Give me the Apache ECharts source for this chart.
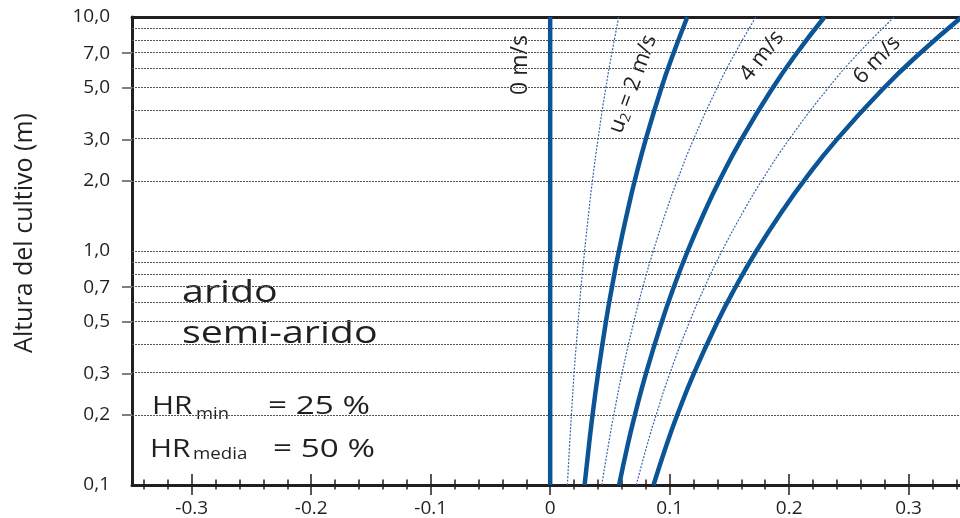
<!DOCTYPE html>
<html><head><meta charset="utf-8">
<script src="https://cdn.jsdelivr.net/npm/echarts@6/dist/echarts.min.js"></script>
<style>html,body{margin:0;padding:0;background:#fff}#c{width:960px;height:518px}</style>
</head><body><div id="c"></div>
<script>
// ---- data ----
const HEIGHTS = [0.1, 0.15, 0.2, 0.3, 0.5, 0.7, 1, 1.5, 2, 3, 5, 7, 10];
const U0 = [0, 0, 0, 0, 0, 0, 0, 0, 0, 0, 0, 0, 0];
const U1 = [0.0144, 0.0163, 0.0178, 0.0200, 0.0234, 0.0258, 0.0288, 0.0325, 0.0354, 0.0400, 0.0466, 0.0516, 0.0574];
const U2 = [0.0288, 0.0326, 0.0355, 0.0401, 0.0467, 0.0517, 0.0575, 0.0650, 0.0708, 0.0800, 0.0932, 0.1032, 0.1148];
const U3 = [0.0432, 0.0489, 0.0533, 0.0601, 0.0701, 0.0775, 0.0863, 0.0975, 0.1063, 0.1200, 0.1399, 0.1547, 0.1722];
const U4 = [0.0577, 0.0651, 0.0710, 0.0802, 0.0935, 0.1034, 0.1151, 0.1300, 0.1417, 0.1600, 0.1865, 0.2063, 0.2296];
const U5 = [0.0721, 0.0814, 0.0888, 0.1002, 0.1168, 0.1292, 0.1438, 0.1625, 0.1771, 0.2000, 0.2331, 0.2579, 0.2880];
const U6 = [0.0865, 0.0977, 0.1065, 0.1203, 0.1402, 0.1551, 0.1726, 0.1950, 0.2125, 0.2400, 0.2797, 0.3095, 0.3445];
const X_TICK_LABELS = [-0.3, -0.2, -0.1, 0, 0.1, 0.2, 0.3];
const X_MINOR_TICKS = [-0.34, -0.32, -0.30, -0.28, -0.26, -0.24, -0.22, -0.20, -0.18, -0.16, -0.14, -0.12, -0.10, -0.08, -0.06, -0.04, -0.02, 0,
  0.02, 0.04, 0.06, 0.08, 0.10, 0.12, 0.14, 0.16, 0.18, 0.20, 0.22, 0.24, 0.26, 0.28, 0.30, 0.32, 0.34];
const Y_TICK_LABELS = [0.1, 0.2, 0.3, 0.5, 0.7, 1, 2, 3, 5, 7, 10];
const Y_TICKS = [0.2, 0.3, 0.5, 0.7, 2, 3, 5, 7];
const Y_GRID = [0.2, 0.3, 0.4, 0.5, 0.6, 0.7, 0.8, 0.9, 1, 2, 3, 4, 5, 6, 7, 8, 9];

// ---- chart ----
const L = v => Math.log10(v);
const pts = xs => xs.map((x, i) => [x, L(HEIGHTS[i])]);
const FONT = 'Open Sans';
const INK = '#231f20';
const BLUE = '#0b5597';
const THIN = '#3566ad';

function baseX(extra) {
  return Object.assign({
    type: 'value', min: -0.35, max: 0.343, position: 'bottom',
    axisLine: { show: false, onZero: false },
    axisTick: { show: false }, axisLabel: { show: false }, splitLine: { show: false }
  }, extra);
}
const tickStyle = { color: INK, width: 1.5 };

const thick = (name, xs) => ({
  name, type: 'line', data: pts(xs), smooth: true, showSymbol: false, symbol: 'none',
  lineStyle: { color: BLUE, width: 4.5 }, z: 5, silent: true
});
const thin = (name, xs) => ({
  name, type: 'line', data: pts(xs), smooth: true, showSymbol: false, symbol: 'none',
  lineStyle: { color: THIN, width: 1.2, type: [2, 1.5] }, z: 4, silent: true
});

const txt = (text, x, y, size, scaleX) => ({
  type: 'text', x, y, scaleX: scaleX || 1, silent: true,
  style: {
    text, fill: INK, fontSize: size, fontFamily: FONT,
    align: 'left', textAlign: 'left', verticalAlign: 'middle', textVerticalAlign: 'middle'
  }
});

const rtxt = (text, x, y, size, deg, rich) => ({
  type: 'text', x, y, rotation: deg * Math.PI / 180, silent: true,
  style: {
    text, fill: INK, fontSize: size, fontFamily: FONT, rich,
    align: 'center', textAlign: 'center', verticalAlign: 'middle', textVerticalAlign: 'middle'
  }
});

const option = {
  animation: false,
  backgroundColor: '#ffffff',
  grid: { left: 132, right: 0, top: 17, bottom: 33, containLabel: false },
  xAxis: [
    baseX({
      axisLine: { show: true, onZero: false, lineStyle: { color: INK, width: 3 } },
      axisTick: { show: true, inside: false, length: 10, customValues: X_TICK_LABELS, lineStyle: tickStyle },
      axisLabel: {
        show: true, customValues: X_TICK_LABELS, margin: 14, fontSize: 19, fontFamily: FONT, color: INK,
        formatter: v => (Math.abs(v) < 1e-9 ? '0' : Number(v).toFixed(1))
      }
    }),
    baseX({ axisTick: { show: true, inside: true, length: 11, customValues: X_TICK_LABELS, lineStyle: tickStyle } }),
    baseX({ axisTick: { show: true, inside: false, length: 4.5, customValues: X_MINOR_TICKS, lineStyle: tickStyle } }),
    baseX({ axisTick: { show: true, inside: true, length: 5.5, customValues: X_MINOR_TICKS, lineStyle: tickStyle } }),
    baseX({ position: 'top', axisLine: { show: true, onZero: false, lineStyle: { color: INK, width: 3 } } })
  ],
  yAxis: [{
    type: 'value', min: -1, max: 1,
    axisLine: { show: true, onZero: false, lineStyle: { color: INK, width: 3 } },
    axisTick: { show: true, inside: false, length: 10, customValues: Y_TICKS.map(L), lineStyle: { color: '#808080', width: 2 } },
    axisLabel: {
      show: true, customValues: Y_TICK_LABELS.map(L), margin: 22, fontSize: 19, fontFamily: FONT, color: INK,
      formatter: v => Math.pow(10, v).toFixed(1).replace('.', ',')
    },
    splitLine: { show: false }
  }],
  series: [
    {
      name: 'grid', type: 'line', data: [], silent: true, z: 1,
      markLine: {
        silent: true, symbol: ['none', 'none'], label: { show: false },
        lineStyle: { color: '#555', width: 1, type: [2, 1] },
        data: Y_GRID.map(v => ({ yAxis: L(v) }))
      }
    },
    thin('1 m/s', U1), thin('3 m/s', U3), thin('5 m/s', U5),
    thick('0 m/s', U0), thick('2 m/s', U2), thick('4 m/s', U4), thick('6 m/s', U6)
  ],
  graphic: [
    rtxt('Altura del cultivo (m)', 25, 233, 25, 90),
    rtxt('0 m/s', 520, 65, 23, 90),
    rtxt('{a|u}{b|2}{a| = 2 m/s}', 633, 84, 22, 70, {
      a: { fontSize: 22, fontFamily: FONT, fill: INK, color: INK },
      b: { fontSize: 14, fontFamily: FONT, fill: INK, color: INK, verticalAlign: 'bottom', padding: [10, 0, 0, 0] }
    }),
    rtxt('4 m/s', 762, 56, 22, 52),
    rtxt('6 m/s', 877, 60, 22, 46),
    txt('arido', 182, 293, 31, 1.27),
    txt('semi-arido', 182, 334, 31, 1.27),
    txt('HR', 152, 407, 26, 1.15),
    txt('min', 196, 414, 16, 1.15),
    txt('= 25 %', 268, 407, 26, 1.28),
    txt('HR', 150, 450, 26, 1.15),
    txt('media', 193, 454, 17, 1.1),
    txt('= 50 %', 273, 450, 26, 1.28)
  ]
};
const chart = echarts.init(document.getElementById('c'), null, { renderer: 'canvas' });
chart.setOption(option);
</script>
</body></html>
